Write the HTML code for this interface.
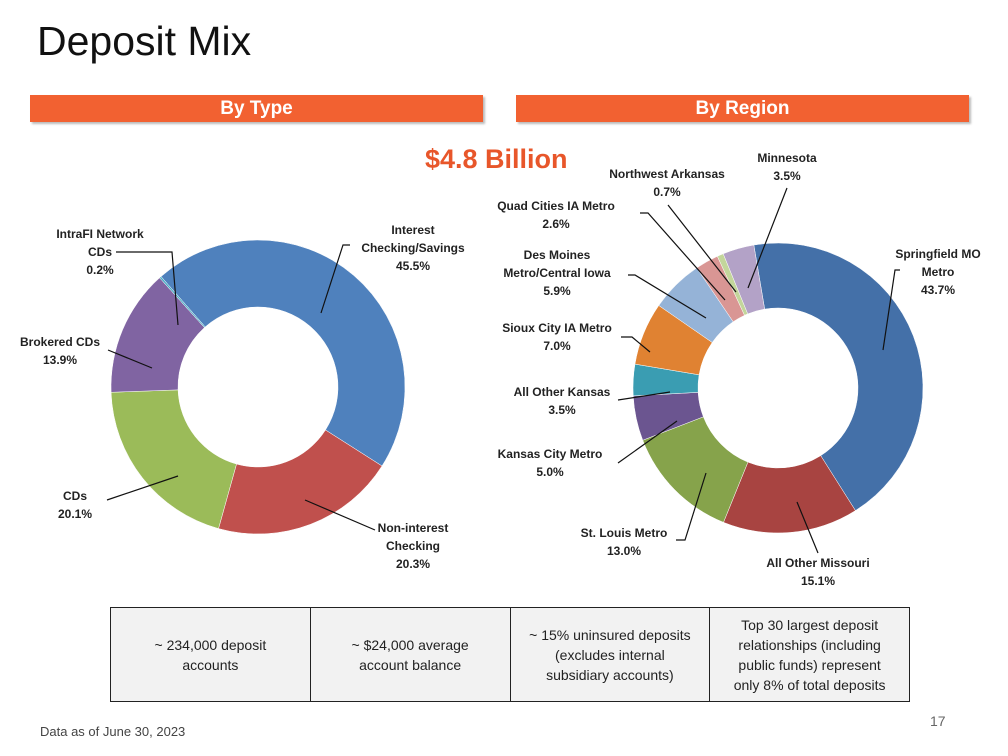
<!DOCTYPE html>
<html><head><meta charset="utf-8"><style>
body{margin:0;width:1008px;height:756px;background:#fff;font-family:"Liberation Sans",sans-serif;position:relative;overflow:hidden}
.t{position:absolute}
.bar{position:absolute;top:95px;height:27px;background:#f26131;color:#fff;font-weight:bold;font-size:19px;text-align:center;line-height:27px;box-shadow:2px 2px 2px #bbb}
table{position:absolute;left:110px;top:607px;width:800px;height:95px;border-collapse:collapse;background:#f2f2f2}
td{border:1.5px solid #222;text-align:center;font-size:14px;color:#222;width:25%;line-height:20px}
svg text{font-family:"Liberation Sans",sans-serif;font-weight:bold;font-size:12px;fill:#222;text-anchor:middle}
</style></head><body>
<div class="t" style="left:37px;top:18px;font-size:41px;color:#111">Deposit Mix</div>
<div class="bar" style="left:30px;width:453px">By Type</div>
<div class="bar" style="left:516px;width:453px">By Region</div>
<div class="t" style="left:425px;top:144px;font-size:27px;font-weight:bold;color:#e8562a">$4.8 Billion</div>
<svg id="chart" width="1008" height="756" style="position:absolute;left:0;top:0"></svg>
<table><tr>
<td>~ 234,000 deposit<br>accounts</td>
<td>~ $24,000 average<br>account balance</td>
<td>~ 15% uninsured deposits<br>(excludes internal<br>subsidiary accounts)</td>
<td>Top 30 largest deposit<br>relationships (including<br>public funds) represent<br>only 8% of total deposits</td>
</tr></table>
<div class="t" style="left:40px;top:724px;font-size:13px;color:#444">Data as of June 30, 2023</div>
<div class="t" style="left:930px;top:713px;font-size:14px;color:#666">17</div>
<script>
const typeCats=["Interest Checking/Savings","Non-interest Checking","CDs","Brokered CDs","IntraFI Network CDs"];
const typeVals=[45.5,20.3,20.1,13.9,0.2];
const regionCats=["Springfield MO Metro","All Other Missouri","St. Louis Metro","Kansas City Metro","All Other Kansas","Sioux City IA Metro","Des Moines Metro/Central Iowa","Quad Cities IA Metro","Northwest Arkansas","Minnesota"];
const regionVals=[43.7,15.1,13.0,5.0,3.5,7.0,5.9,2.6,0.7,3.5];
const svg=document.getElementById('chart');const NS='http://www.w3.org/2000/svg';
function mk(t,a){const e=document.createElementNS(NS,t);for(const k in a)e.setAttribute(k,a[k]);svg.appendChild(e);return e;}
function pt(cx,cy,r,a){const q=(a-90)*Math.PI/180;return [cx+r*Math.cos(q),cy+r*Math.sin(q)];}
function donut(vals,cats,cx,cy,R,r,start,colors,pref){
 const tot=vals.reduce((a,b)=>a+b,0);let a=start;
 vals.forEach((v,i)=>{const b=a+v/tot*360;const L=(b-a)>180?1:0;
  const p1=pt(cx,cy,R,a),p2=pt(cx,cy,R,b),p3=pt(cx,cy,r,b),p4=pt(cx,cy,r,a);
  const e=mk('path',{d:`M${p1}A${R},${R} 0 ${L} 1 ${p2}L${p3}A${r},${r} 0 ${L} 0 ${p4}Z`,fill:colors[i],stroke:'#fff','stroke-width':0.5});
  
  
  a=b;});
}
donut(typeVals,typeCats,258,387,147,80,318.7,["#4f81bd","#c0504d","#9bbb59","#8064a2","#4bacc6"],'type');
donut(regionVals,regionCats,778,388,145,80,-9.6,["#4470a8","#a84441","#86a34b","#6b5590","#3a9db2","#e08232","#95b3d7","#d99694","#c3d69b","#b3a2c7"],'region');
function label(lines,x,y,pts,name){
 const t=mk('text',{x:x,y:y});
 lines.forEach((s,i)=>{const ts=document.createElementNS(NS,'tspan');ts.setAttribute('x',x);ts.setAttribute('dy',i?18:0);ts.textContent=s;t.appendChild(ts);});
 const l=mk('polyline',{points:pts,fill:'none',stroke:'#111','stroke-width':1.2});
}
const pc=v=>v.toFixed(1)+'%';
label(["Interest","Checking/Savings",pc(typeVals[0])],413,234,"350,245 343,245 321,313","interest");
label(["IntraFI Network","CDs",pc(typeVals[4])],100,238,"116,252 172,252 178,325","intrafi");
label(["Brokered CDs",pc(typeVals[3])],60,346,"108,350 152,368","brokered");
label(["CDs",pc(typeVals[2])],75,500,"107,500 178,476","cds");
label(["Non-interest","Checking",pc(typeVals[1])],413,532,"375,530 305,500","noninterest");
label(["Springfield MO","Metro",pc(regionVals[0])],938,258,"900,270 895,270 883,350","springfield");
label(["All Other Missouri",pc(regionVals[1])],818,567,"818,553 797,502","othermo");
label(["St. Louis Metro",pc(regionVals[2])],624,537,"676,540 685,540 706,473","stlouis");
label(["Kansas City Metro",pc(regionVals[3])],550,458,"618,463 677,421","kc");
label(["All Other Kansas",pc(regionVals[4])],562,396,"618,400 670,392","otherks");
label(["Sioux City IA Metro",pc(regionVals[5])],557,332,"621,337 632,337 650,352","sioux");
label(["Des Moines","Metro/Central Iowa",pc(regionVals[6])],557,259,"628,275 635,275 706,318","desmoines");
label(["Quad Cities IA Metro",pc(regionVals[7])],556,210,"640,213 648,213 725,300","quad");
label(["Northwest Arkansas",pc(regionVals[8])],667,178,"668,205 736,292","nwa");
label(["Minnesota",pc(regionVals[9])],787,162,"787,188 748,288","mn");
</script>
</body></html>
